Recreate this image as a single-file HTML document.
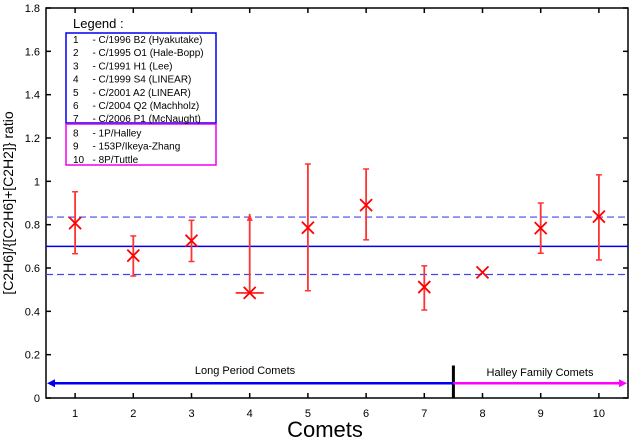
<!DOCTYPE html>
<html><head><meta charset="utf-8"><style>
body{margin:0;background:#fff}
svg{display:block;font-family:"Liberation Sans",sans-serif}
</style></head><body>
<svg id="c" width="630" height="440"></svg>
<script>
const categories=[1,2,3,4,5,6,7,8,9,10];
const values=[0.807,0.657,0.726,0.485,0.786,0.89,0.512,0.58,0.784,0.837];
const errLow=[0.666,0.563,0.63,0.485,0.495,0.73,0.406,null,0.668,0.637];
const errHigh=[0.952,0.748,0.82,0.85,1.08,1.057,0.61,null,0.90,1.03];
const yTicks=[0,0.2,0.4,0.6,0.8,1,1.2,1.4,1.6,1.8];
const yTickLabels=["0","0.2","0.4","0.6","0.8","1","1.2","1.4","1.6","1.8"];
const meanVal=0.70, meanLow=0.57, meanHigh=0.835;
const legendItems=["1     - C/1996 B2 (Hyakutake)","2     - C/1995 O1 (Hale-Bopp)","3     - C/1991 H1 (Lee)","4     - C/1999 S4 (LINEAR)","5     - C/2001 A2 (LINEAR)","6     - C/2004 Q2 (Machholz)","7     - C/2006 P1 (McNaught)","8     - 1P/Halley","9     - 153P/Ikeya-Zhang","10   - 8P/Tuttle"];
const L=46,R=628,T=8,B=398;
const X=v=>L+(v-0.5)/10*(R-L);
const Y=v=>B-v/1.8*(B-T);
const svg=document.getElementById('c');const NS='http://www.w3.org/2000/svg';
function mk(t,a,name,txt){const e=document.createElementNS(NS,t);for(const k in a)e.setAttribute(k,a[k]);


if(txt!=null)e.textContent=txt;svg.appendChild(e);return e;}
mk('rect',{x:L,y:T,width:R-L,height:B-T,fill:'none',stroke:'#000','stroke-width':1.5},'plot-frame');
yTicks.forEach((v,i)=>{mk('line',{x1:L,x2:L+5,y1:Y(v),y2:Y(v),stroke:'#000','stroke-width':1.5},'y-tick');
mk('line',{x1:R,x2:R-5,y1:Y(v),y2:Y(v),stroke:'#000','stroke-width':1.5},'y-tick-right');
mk('text',{x:40,y:Y(v)+4,'font-size':11,'text-anchor':'end'},'y-tick-label',yTickLabels[i]);});
categories.forEach(c=>{mk('line',{x1:X(c),x2:X(c),y1:B,y2:B-5,stroke:'#000','stroke-width':1.5},'x-tick');
mk('line',{x1:X(c),x2:X(c),y1:T,y2:T+5,stroke:'#000','stroke-width':1.5},'x-tick-top');
mk('text',{x:X(c),y:417,'font-size':11,'text-anchor':'middle'},'x-tick-label',String(c));});
mk('line',{x1:L,x2:R,y1:Y(meanVal),y2:Y(meanVal),stroke:'#0000ee','stroke-width':1.5},'mean-line');
[meanLow,meanHigh].forEach(v=>mk('line',{x1:L,x2:R,y1:Y(v),y2:Y(v),stroke:'#4444ee','stroke-width':1.2,'stroke-dasharray':'7,4'},'mean-std-line'));
categories.forEach((c,i)=>{const x=X(c),y=Y(values[i]);
if(errLow[i]!=null){mk('line',{x1:x,x2:x,y1:Y(errLow[i]),y2:Y(errHigh[i]),stroke:'#f33','stroke-width':1.8},'error-bar');
if(c===4){mk('polygon',{points:`${x-3},${Y(errHigh[i])+7} ${x+3},${Y(errHigh[i])+7} ${x},${Y(errHigh[i])}`,fill:'#f33'},'upper-limit-arrow');
mk('line',{x1:x-14,x2:x+14,y1:y,y2:y,stroke:'#f33','stroke-width':1.8},'lower-limit-bar');}
else{mk('line',{x1:x-3,x2:x+3,y1:Y(errHigh[i]),y2:Y(errHigh[i]),stroke:'#f33','stroke-width':1.5},'error-cap');}
if(c!==4)mk('line',{x1:x-3,x2:x+3,y1:Y(errLow[i]),y2:Y(errLow[i]),stroke:'#f33','stroke-width':1.5},'error-cap');}
mk('path',{d:`M${x-6},${y-6}L${x+6},${y+6}M${x-6},${y+6}L${x+6},${y-6}`,stroke:'#f00','stroke-width':1.8,fill:'none'},'data-point');});
const sx=X(7.5);
mk('line',{x1:sx,x2:sx,y1:B,y2:Y(0.15),stroke:'#000','stroke-width':3},'group-separator');
const ay=Y(0.068);
mk('line',{x1:L+6,x2:sx,y1:ay,y2:ay,stroke:'#0000ee','stroke-width':2.5},'long-period-arrow');
mk('polygon',{points:`${L+1},${ay} ${L+9},${ay-4} ${L+9},${ay+4}`,fill:'#0000ee'},'long-period-arrowhead');
mk('line',{x1:sx,x2:R-6,y1:ay,y2:ay,stroke:'#ff00ff','stroke-width':2.5},'halley-family-arrow');
mk('polygon',{points:`${R-1},${ay} ${R-9},${ay-4} ${R-9},${ay+4}`,fill:'#ff00ff'},'halley-family-arrowhead');
mk('text',{x:245,y:374,'font-size':11,'text-anchor':'middle'},'long-period-label','Long Period Comets');
mk('text',{x:540,y:376,'font-size':11,'text-anchor':'middle'},'halley-family-label','Halley Family Comets');
mk('text',{x:73,y:28,'font-size':13},'legend-title','Legend :');
mk('rect',{x:66,y:33,width:150,height:90,fill:'none',stroke:'#0000ee','stroke-width':1.5},'legend-box-long-period');
mk('rect',{x:66,y:124,width:150,height:41,fill:'none',stroke:'#ee00ee','stroke-width':1.5},'legend-box-halley');
legendItems.forEach((t,i)=>{mk('text',{x:73,y:43+i*13.2+(i>=7?1:0),'font-size':10,'xml:space':'preserve','style':'white-space:pre'},'legend-entry',t);});
mk('text',{x:325,y:437,'font-size':22,'text-anchor':'middle'},'x-axis-title','Comets');
mk('text',{x:0,y:0,'font-size':14,'text-anchor':'middle',transform:'translate(13,203) rotate(-90)'},'y-axis-title','[C2H6]/{[C2H6]+[C2H2]} ratio');
</script>
</body></html>
